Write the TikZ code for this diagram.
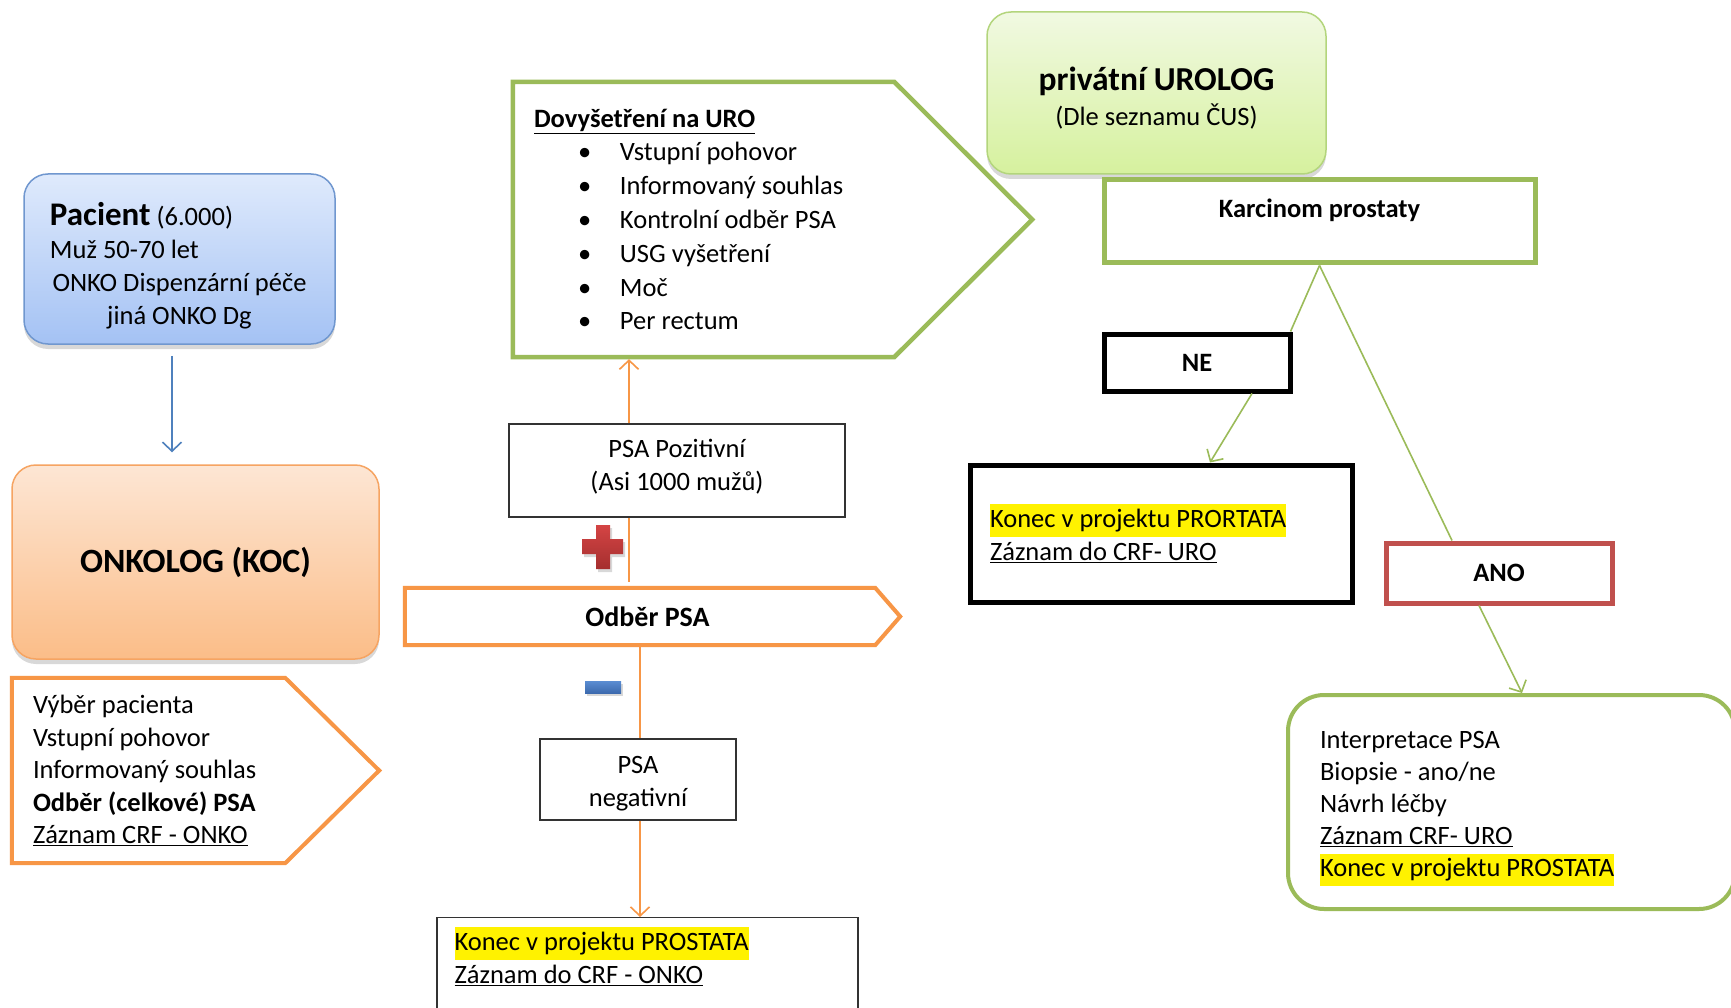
\documentclass[tikz,border=0pt]{standalone}
\usepackage{fontspec}
\setmainfont{Carlito}
\usetikzlibrary{positioning,arrows.meta,shadows}

\definecolor{orng}{HTML}{F79646}
\definecolor{grn}{HTML}{9BBB59}
\definecolor{redb}{HTML}{C0504D}
\definecolor{blu}{HTML}{4F81BD}
\definecolor{pactop}{HTML}{DFEAFC}
\definecolor{pacbot}{HTML}{A4C2F4}
\definecolor{pacline}{HTML}{7097CF}
\definecolor{onktop}{HTML}{FDE6D4}
\definecolor{onkbot}{HTML}{FBBD88}
\definecolor{onkline}{HTML}{F6A462}
\definecolor{urotop}{HTML}{F1F9E2}
\definecolor{urobot}{HTML}{D6F19E}
\definecolor{uroline}{HTML}{B3D57C}
\definecolor{plustop}{HTML}{D44444}
\definecolor{plusbot}{HTML}{A52F2F}
\definecolor{minustop}{HTML}{5A8DD2}
\definecolor{minusbot}{HTML}{3C6AAE}

\newcommand{\txtsize}{\fontsize{26.5}{33}\selectfont}
\newcommand{\hilite}[1]{{\setlength{\fboxsep}{0pt}\colorbox{yellow}{\strut #1}}}
\newcommand{\bitem}[1]{\hspace*{44pt}\makebox[42pt][l]{\textbullet}#1}

\begin{document}
\begin{tikzpicture}[x=1pt,y=-1pt,
    every node/.style={font=\txtsize, inner sep=0pt},
    roundbox/.style={rectangle, rounded corners=24pt, line width=1.5pt,
      drop shadow={shadow xshift=0pt, shadow yshift=-5pt, opacity=.3}},
    thinbox/.style={rectangle, draw=black!80, line width=1.3pt},
    link/.style={line width=1.6pt},
    tip/.style={-{Straight Barb[length=9pt,width=19pt]}}]

  \path[use as bounding box, fill=white] (0,0) rectangle (1731,1008);
  \clip (0,0) rectangle (1731,1008);

  % onkolog side
  \node[roundbox, draw=pacline, top color=pactop, bottom color=pacbot,
        minimum width=311pt, minimum height=170pt] (pac) at (179.5,259) {};
  \node[text width=262pt, align=flush center] (pactxt) at ([yshift=-7pt]pac.center)
       {\hspace*{1.5pt}{\fontsize{33}{33}\selectfont\bfseries Pacient} (6.000)\hfill\null\\
        \hspace*{1.5pt}Muž 50-70 let\hfill\null\\
        ONKO Dispenzární péče\\
        jiná ONKO Dg};
  \node[roundbox, draw=onkline, top color=onktop, bottom color=onkbot,
        minimum width=367pt, minimum height=194pt,
        font=\fontsize{34}{40}\selectfont\bfseries] (onk) at (195.5,562) {ONKOLOG (KOC)};
  \node[text width=325pt, align=flush left, minimum width=367pt, minimum height=185pt,
        font=\fontsize{26.5}{32.5}\selectfont] (onkpt) at (195.5,770.5)
       {Výběr pacienta\\
        Vstupní pohovor\\
        Informovaný souhlas\\
        \textbf{Odběr (celkové) PSA}\\
        \underline{Záznam CRF - ONKO}};
  \draw[orng, line width=4pt] (onkpt.north west) -- ([xshift=-94pt]onkpt.north east)
    -- (onkpt.east) -- ([xshift=-94pt]onkpt.south east) -- (onkpt.south west) -- cycle;

  % PSA
  \node[text width=477pt, align=flush left, minimum width=519pt, minimum height=275pt,
        font=\fontsize{26.5}{33.8}\selectfont] (dov) at (772.5,219.5)
       {\underline{\textbf{Dovyšetření na URO}}\\
        \bitem{Vstupní pohovor}\\
        \bitem{Informovaný souhlas}\\
        \bitem{Kontrolní odběr PSA}\\
        \bitem{USG vyšetření}\\
        \bitem{Moč}\\
        \bitem{Per rectum}};
  \draw[grn, line width=4.5pt] (dov.north west) -- ([xshift=-138pt]dov.north east)
    -- (dov.east) -- ([xshift=-138pt]dov.south east) -- (dov.south west) -- cycle;

  \node[thinbox, minimum width=336pt, minimum height=93pt] (pozit) at (677,470.5) {};
  \node[align=center] (pozittxt) at ([yshift=4pt]pozit.center) {PSA Pozitivní\\(Asi 1000 mužů)};
  \node[minimum width=495pt, minimum height=57pt] (odb) at (652.5,616.5) {};
  \node[font=\fontsize{28}{33}\selectfont\bfseries] (odbtxt) at ([xshift=-5pt]odb.center) {Odběr PSA};
  \draw[orng, line width=4pt] (odb.north west) -- ([xshift=-25pt]odb.north east)
    -- (odb.east) -- ([xshift=-25pt]odb.south east) -- (odb.south west) -- cycle;
  \node[thinbox, minimum width=196pt, minimum height=81pt] (neg) at (638,779.5) {};
  \node[align=center] (negtxt) at ([yshift=-4pt]neg.center) {PSA\\negativní};
  \node[thinbox, minimum width=421pt, minimum height=130pt, anchor=north] (endonko) at (647.5,917) {};
  \node[anchor=north west, align=left] (endtxt) at ([xshift=18pt,yshift=-10pt]endonko.north west)
       {\hilite{Konec v projektu PROSTATA}\\
        \underline{Záznam do CRF - ONKO}};

  % plus / minus
  \path[top color=plustop, bottom color=plusbot,
        drop shadow={shadow xshift=2pt, shadow yshift=-3pt, opacity=.3}]
    (596,525) -- (610,525) -- (610,539) -- (623,539) -- (623,554) -- (610,554) -- (610,569)
    -- (596,569) -- (596,554) -- (582,554) -- (582,539) -- (596,539) -- cycle;
  \path[top color=minustop, bottom color=minusbot,
        drop shadow={shadow xshift=2pt, shadow yshift=-3pt, opacity=.3}]
    (585,681) rectangle (621,693);

  % urolog side
  \node[roundbox, draw=uroline, top color=urotop, bottom color=urobot,
        minimum width=339pt, minimum height=162pt] (uro) at (1156.5,93) {};
  \node[align=center] (urotxt) at ([yshift=-5pt]uro.center)
       {{\fontsize{33.5}{36}\selectfont\bfseries privátní UROLOG}\\[2pt](Dle seznamu ČUS)};
  \node[rectangle, draw=grn, line width=5pt, minimum width=431pt,
        text height=37.5pt, text depth=45.5pt, font=\txtsize\bfseries] (karc) at (1319.5,221.5)
       {Karcinom prostaty};

  \begin{scope}[every node/.style={rectangle, line width=5pt, font=\txtsize\bfseries, inner sep=0pt}]
    \node[draw=black, minimum width=186pt, minimum height=57pt] (ne) at (1197,362.5) {NE};
    \node[draw=redb, minimum width=226pt, minimum height=60pt] (ano) at (1499,573) {ANO};
  \end{scope}

  \node[rectangle, draw=black, line width=5pt, minimum width=382pt, minimum height=137pt,
        text width=342pt, align=flush left] (konec) at (1161,533.5)
       {\hilite{Konec v projektu PRORTATA}\\
        \underline{Záznam do CRF- URO}};
  \node[rectangle, rounded corners=36pt, draw=grn, line width=4pt,
        minimum width=447pt, minimum height=214pt] (fin) at (1511.5,802) {};
  \node[text width=383pt, align=flush left, font=\fontsize{26.5}{32}\selectfont]
       (fintxt) at ([yshift=-7pt]fin.center)
       {Interpretace PSA\\
        Biopsie - ano/ne\\
        Návrh léčby\\
        \underline{Záznam CRF- URO}\\
        \hilite{Konec v projektu PROSTATA}};

  % connectors
  \draw[link, blu, tip, shorten <=11pt, shorten >=12pt]
    ([xshift=-7.5pt]pac.south) -- ([xshift=-7.5pt]pac.south |- onk.north);
  \draw[link, orng, shorten >=6pt] ([xshift=-48pt]pozit.south) -- ([xshift=-48pt]pozit.south |- odb.north);
  \draw[link, orng, tip, shorten >=2pt] ([xshift=-48pt]pozit.north) -- ([xshift=-48pt]pozit.north |- dov.south);
  \draw[link, orng] ([xshift=2pt]neg.north |- odb.south) -- ([xshift=2pt]neg.north);
  \draw[link, orng, tip] ([xshift=2pt]neg.south) -- ([xshift=2pt]neg.south |- endonko.north);
  \draw[link, grn] (karc.south) -- ([xshift=-2pt]ne.north east);
  \draw[link, grn, tip] ([xshift=55pt]ne.south) -- ([xshift=49pt]konec.north);
  \draw[link, grn] (karc.south) -- ([xshift=-47pt]ano.north);
  \draw[link, grn, tip] ([xshift=-20pt]ano.south) -- ([xshift=10.5pt]fin.north);

\end{tikzpicture}
\end{document}
